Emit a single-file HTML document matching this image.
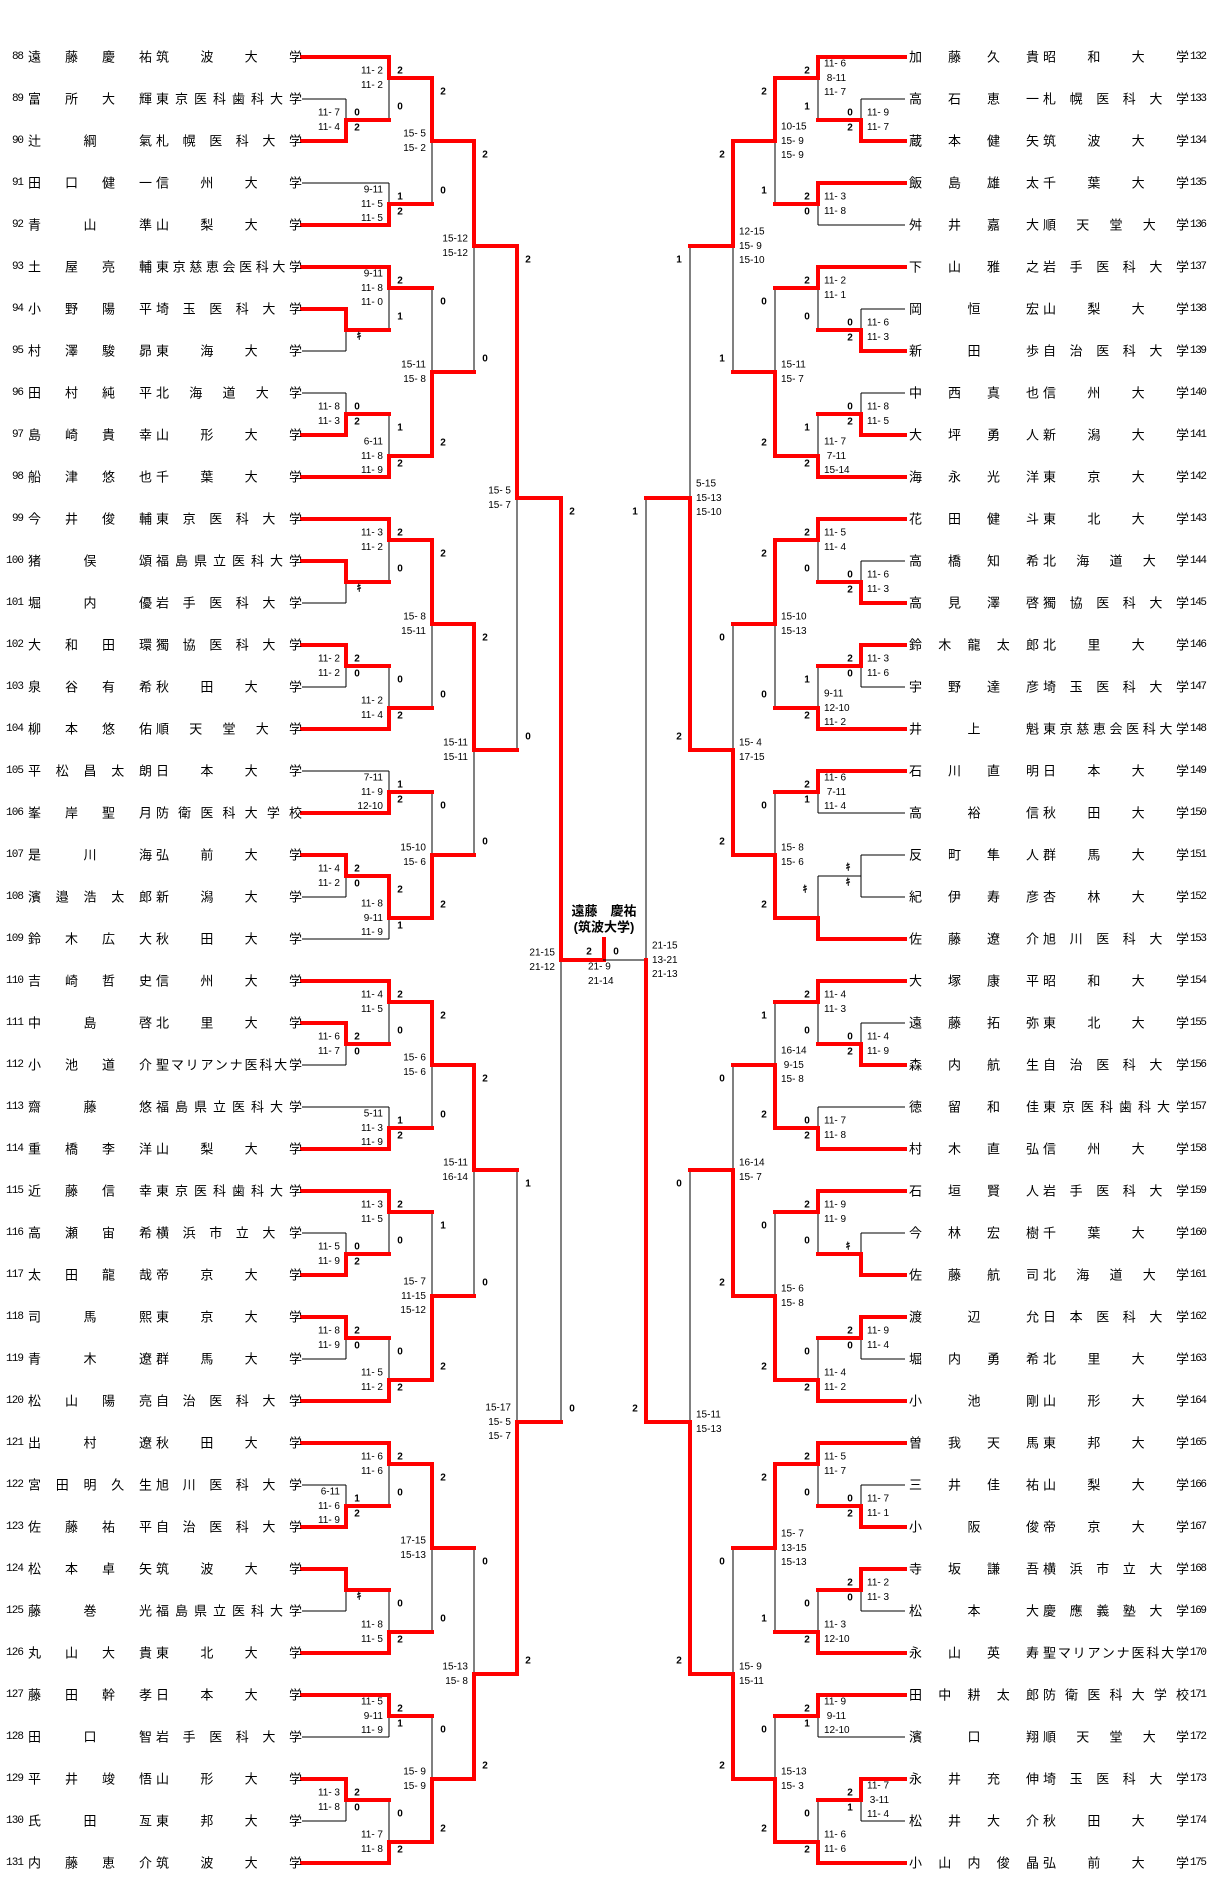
<!DOCTYPE html>
<html><head><meta charset="utf-8">
<style>
html,body{margin:0;padding:0;background:#fff;}
svg{display:block;}
text{font-family:"Liberation Sans","Noto Sans CJK JP",sans-serif;dominant-baseline:central;fill:#000;}
.t{font-size:13px;}
.nl{font-family:"Liberation Mono",monospace;font-size:11px;text-anchor:end;}
.nr{font-family:"Liberation Mono",monospace;font-size:11px;}
.s{font-size:10px;font-weight:bold;text-anchor:middle;font-family:"Liberation Sans","Noto Sans CJK JP",sans-serif;}
.gl{font-family:"Liberation Mono",monospace;font-size:10px;text-anchor:end;white-space:pre;}
.gr{font-family:"Liberation Mono",monospace;font-size:10px;white-space:pre;}
.ch{font-size:13px;font-weight:bold;text-anchor:middle;}
path{fill:none;vector-effect:non-scaling-stroke;}
.k{stroke:#000;stroke-width:1;shape-rendering:crispEdges;}
.r{stroke:#ff0000;stroke-width:4;stroke-linecap:square;}
</style></head><body>
<svg width="1207" height="1885" viewBox="0 0 1207 1885" xmlns="http://www.w3.org/2000/svg">
<defs>
<g id="sk">
<path class="k" d="M302 2H346M302 4H346M302 12H346M302 14H346M302 16H346M302 18H346M302 24H346M302 26H346M302 28H346M302 30H346M302 38H346M302 40H346M302 46H346M302 48H346M302 56H346M302 58H346M302 60H346M302 62H346M302 68H346M302 70H346M302 72H346M302 74H346M302 82H346M302 84H346
M302 0H389M302 6H389M302 8H389M302 10H389M302 20H389M302 22H389M302 32H389M302 34H389M302 36H389M302 42H389M302 44H389M302 50H389M302 52H389M302 54H389M302 64H389M302 66H389M302 76H389M302 78H389M302 80H389M302 86H389
M346 2V4M346 3H389M346 12V14M346 13H389M346 16V18M346 17H389M346 24V26M346 25H389M346 28V30M346 29H389M346 38V40M346 39H389M346 46V48M346 47H389M346 56V58M346 57H389M346 60V62M346 61H389M346 68V70M346 69H389M346 72V74M346 73H389M346 82V84M346 83H389
M389 0V3M389 1H432M389 6V8M389 7H432M389 10V13M389 11H432M389 17V20M389 19H432M389 22V25M389 23H432M389 29V32M389 31H432M389 34V36M389 35H432M389 39V42M389 41H432M389 44V47M389 45H432M389 50V52M389 51H432M389 54V57M389 55H432M389 61V64M389 63H432M389 66V69M389 67H432M389 73V76M389 75H432M389 78V80M389 79H432M389 83V86M389 85H432
M432 1V7M432 4H474M432 11V19M432 15H474M432 23V31M432 27H474M432 35V41M432 38H474M432 45V51M432 48H474M432 55V63M432 59H474M432 67V75M432 71H474M432 79V85M432 82H474
M474 4V15M474 9H517M474 27V38M474 33H517M474 48V59M474 53H517M474 71V82M474 77H517
M517 9V33M517 21H561M517 53V77M517 65H561
M561 21V65M561 43H604"/>
</g>
</defs>
<g transform="translate(0 57) scale(1 21)">
<use href="#sk"/>
<path class="r" d="M302 0H389M302 4H346M302 8H389M302 10H389M302 12H346M302 18H346M302 20H389M302 22H389M302 24H346M302 28H346M302 32H389M302 36H389M302 38H346M302 44H389M302 46H346M302 52H389M302 54H389M302 58H346M302 60H346M302 64H389M302 66H389M302 70H346M302 72H346M302 76H389M302 78H389M302 82H346M302 86H389
M346 4V3H389M346 12V13H389M346 18V17H389M346 24V25H389M346 28V29H389M346 38V39H389M346 46V47H389M346 58V57H389M346 60V61H389M346 70V69H389M346 72V73H389M346 82V83H389
M389 0V1H432M389 8V7H432M389 10V11H432M389 20V19H432M389 22V23H432M389 32V31H432M389 36V35H432M389 39V41H432M389 44V45H432M389 52V51H432M389 54V55H432M389 64V63H432M389 66V67H432M389 76V75H432M389 78V79H432M389 86V85H432
M432 1V4H474M432 19V15H474M432 23V27H474M432 41V38H474M432 45V48H474M432 63V59H474M432 67V71H474M432 85V82H474
M474 4V9H517M474 27V33H517M474 48V53H517M474 82V77H517
M517 9V21H561M517 77V65H561M561 21V43H604V42"/>
</g>
<g transform="translate(1207 57) scale(-1 21)">
<use href="#sk"/>
<path class="r" d="M302 0H389M302 4H346M302 6H389M302 10H389M302 14H346M302 18H346M302 20H389M302 22H389M302 26H346M302 28H346M302 32H389M302 34H389M302 42H389M302 44H389M302 48H346M302 52H389M302 54H389M302 58H346M302 60H346M302 64H389M302 66H389M302 70H346M302 72H346M302 76H389M302 78H389M302 82H346M302 86H389
M346 4V3H389M346 14V13H389M346 18V17H389M346 26V25H389M346 28V29H389M346 48V47H389M346 58V57H389M346 60V61H389M346 70V69H389M346 72V73H389M346 82V83H389
M389 0V1H432M389 6V7H432M389 10V11H432M389 20V19H432M389 22V23H432M389 32V31H432M389 34V35H432M389 42V41H432M389 44V45H432M389 52V51H432M389 54V55H432M389 64V63H432M389 66V67H432M389 76V75H432M389 78V79H432M389 86V85H432
M432 1V4H474M432 19V15H474M432 23V27H474M432 41V38H474M432 51V48H474M432 63V59H474M432 67V71H474M432 85V82H474
M474 4V9H517M474 38V33H517M474 59V53H517M474 82V77H517
M517 33V21H561M517 77V65H561M561 65V43"/>
</g>

<!-- Left names -->
<g class="t">
<text class="nl" x="24" y="57" textLength="12">88</text><text x="28" y="57" textLength="124">遠藤慶祐</text><text x="156" y="57" textLength="146">筑波大学</text>
<text class="nl" x="24" y="99" textLength="12">89</text><text x="28" y="99" textLength="124">富所大輝</text><text x="156" y="99" textLength="146">東京医科歯科大学</text>
<text class="nl" x="24" y="141" textLength="12">90</text><text x="28" y="141" textLength="124">辻綱氣</text><text x="156" y="141" textLength="146">札幌医科大学</text>
<text class="nl" x="24" y="183" textLength="12">91</text><text x="28" y="183" textLength="124">田口健一</text><text x="156" y="183" textLength="146">信州大学</text>
<text class="nl" x="24" y="225" textLength="12">92</text><text x="28" y="225" textLength="124">青山準</text><text x="156" y="225" textLength="146">山梨大学</text>
<text class="nl" x="24" y="267" textLength="12">93</text><text x="28" y="267" textLength="124">土屋亮輔</text><text x="156" y="267" textLength="146">東京慈恵会医科大学</text>
<text class="nl" x="24" y="309" textLength="12">94</text><text x="28" y="309" textLength="124">小野陽平</text><text x="156" y="309" textLength="146">埼玉医科大学</text>
<text class="nl" x="24" y="351" textLength="12">95</text><text x="28" y="351" textLength="124">村澤駿昴</text><text x="156" y="351" textLength="146">東海大学</text>
<text class="nl" x="24" y="393" textLength="12">96</text><text x="28" y="393" textLength="124">田村純平</text><text x="156" y="393" textLength="146">北海道大学</text>
<text class="nl" x="24" y="435" textLength="12">97</text><text x="28" y="435" textLength="124">島崎貴幸</text><text x="156" y="435" textLength="146">山形大学</text>
<text class="nl" x="24" y="477" textLength="12">98</text><text x="28" y="477" textLength="124">船津悠也</text><text x="156" y="477" textLength="146">千葉大学</text>
<text class="nl" x="24" y="519" textLength="12">99</text><text x="28" y="519" textLength="124">今井俊輔</text><text x="156" y="519" textLength="146">東京医科大学</text>
<text class="nl" x="24" y="561" textLength="18">100</text><text x="28" y="561" textLength="124">猪俣頌</text><text x="156" y="561" textLength="146">福島県立医科大学</text>
<text class="nl" x="24" y="603" textLength="18">101</text><text x="28" y="603" textLength="124">堀内優</text><text x="156" y="603" textLength="146">岩手医科大学</text>
<text class="nl" x="24" y="645" textLength="18">102</text><text x="28" y="645" textLength="124">大和田環</text><text x="156" y="645" textLength="146">獨協医科大学</text>
<text class="nl" x="24" y="687" textLength="18">103</text><text x="28" y="687" textLength="124">泉谷有希</text><text x="156" y="687" textLength="146">秋田大学</text>
<text class="nl" x="24" y="729" textLength="18">104</text><text x="28" y="729" textLength="124">柳本悠佑</text><text x="156" y="729" textLength="146">順天堂大学</text>
<text class="nl" x="24" y="771" textLength="18">105</text><text x="28" y="771" textLength="124">平松昌太朗</text><text x="156" y="771" textLength="146">日本大学</text>
<text class="nl" x="24" y="813" textLength="18">106</text><text x="28" y="813" textLength="124">峯岸聖月</text><text x="156" y="813" textLength="146">防衛医科大学校</text>
<text class="nl" x="24" y="855" textLength="18">107</text><text x="28" y="855" textLength="124">是川海</text><text x="156" y="855" textLength="146">弘前大学</text>
<text class="nl" x="24" y="897" textLength="18">108</text><text x="28" y="897" textLength="124">濱邉浩太郎</text><text x="156" y="897" textLength="146">新潟大学</text>
<text class="nl" x="24" y="939" textLength="18">109</text><text x="28" y="939" textLength="124">鈴木広大</text><text x="156" y="939" textLength="146">秋田大学</text>
<text class="nl" x="24" y="981" textLength="18">110</text><text x="28" y="981" textLength="124">吉崎哲史</text><text x="156" y="981" textLength="146">信州大学</text>
<text class="nl" x="24" y="1023" textLength="18">111</text><text x="28" y="1023" textLength="124">中島啓</text><text x="156" y="1023" textLength="146">北里大学</text>
<text class="nl" x="24" y="1065" textLength="18">112</text><text x="28" y="1065" textLength="124">小池道介</text><text x="156" y="1065" textLength="146">聖マリアンナ医科大学</text>
<text class="nl" x="24" y="1107" textLength="18">113</text><text x="28" y="1107" textLength="124">齋藤悠</text><text x="156" y="1107" textLength="146">福島県立医科大学</text>
<text class="nl" x="24" y="1149" textLength="18">114</text><text x="28" y="1149" textLength="124">重橋李洋</text><text x="156" y="1149" textLength="146">山梨大学</text>
<text class="nl" x="24" y="1191" textLength="18">115</text><text x="28" y="1191" textLength="124">近藤信幸</text><text x="156" y="1191" textLength="146">東京医科歯科大学</text>
<text class="nl" x="24" y="1233" textLength="18">116</text><text x="28" y="1233" textLength="124">高瀬宙希</text><text x="156" y="1233" textLength="146">横浜市立大学</text>
<text class="nl" x="24" y="1275" textLength="18">117</text><text x="28" y="1275" textLength="124">太田龍哉</text><text x="156" y="1275" textLength="146">帝京大学</text>
<text class="nl" x="24" y="1317" textLength="18">118</text><text x="28" y="1317" textLength="124">司馬熙</text><text x="156" y="1317" textLength="146">東京大学</text>
<text class="nl" x="24" y="1359" textLength="18">119</text><text x="28" y="1359" textLength="124">青木遼</text><text x="156" y="1359" textLength="146">群馬大学</text>
<text class="nl" x="24" y="1401" textLength="18">120</text><text x="28" y="1401" textLength="124">松山陽亮</text><text x="156" y="1401" textLength="146">自治医科大学</text>
<text class="nl" x="24" y="1443" textLength="18">121</text><text x="28" y="1443" textLength="124">出村遼</text><text x="156" y="1443" textLength="146">秋田大学</text>
<text class="nl" x="24" y="1485" textLength="18">122</text><text x="28" y="1485" textLength="124">宮田明久生</text><text x="156" y="1485" textLength="146">旭川医科大学</text>
<text class="nl" x="24" y="1527" textLength="18">123</text><text x="28" y="1527" textLength="124">佐藤祐平</text><text x="156" y="1527" textLength="146">自治医科大学</text>
<text class="nl" x="24" y="1569" textLength="18">124</text><text x="28" y="1569" textLength="124">松本卓矢</text><text x="156" y="1569" textLength="146">筑波大学</text>
<text class="nl" x="24" y="1611" textLength="18">125</text><text x="28" y="1611" textLength="124">藤巻光</text><text x="156" y="1611" textLength="146">福島県立医科大学</text>
<text class="nl" x="24" y="1653" textLength="18">126</text><text x="28" y="1653" textLength="124">丸山大貴</text><text x="156" y="1653" textLength="146">東北大学</text>
<text class="nl" x="24" y="1695" textLength="18">127</text><text x="28" y="1695" textLength="124">藤田幹孝</text><text x="156" y="1695" textLength="146">日本大学</text>
<text class="nl" x="24" y="1737" textLength="18">128</text><text x="28" y="1737" textLength="124">田口智</text><text x="156" y="1737" textLength="146">岩手医科大学</text>
<text class="nl" x="24" y="1779" textLength="18">129</text><text x="28" y="1779" textLength="124">平井竣悟</text><text x="156" y="1779" textLength="146">山形大学</text>
<text class="nl" x="24" y="1821" textLength="18">130</text><text x="28" y="1821" textLength="124">氏田亙</text><text x="156" y="1821" textLength="146">東邦大学</text>
<text class="nl" x="24" y="1863" textLength="18">131</text><text x="28" y="1863" textLength="124">内藤恵介</text><text x="156" y="1863" textLength="146">筑波大学</text>
</g>

<!-- Right names -->
<g class="t">
<text x="909" y="57" textLength="130">加藤久貴</text><text x="1043" y="57" textLength="146">昭和大学</text><text class="nr" x="1190" y="57" textLength="17">132</text>
<text x="909" y="99" textLength="130">高石恵一</text><text x="1043" y="99" textLength="146">札幌医科大学</text><text class="nr" x="1190" y="99" textLength="17">133</text>
<text x="909" y="141" textLength="130">蔵本健矢</text><text x="1043" y="141" textLength="146">筑波大学</text><text class="nr" x="1190" y="141" textLength="17">134</text>
<text x="909" y="183" textLength="130">飯島雄太</text><text x="1043" y="183" textLength="146">千葉大学</text><text class="nr" x="1190" y="183" textLength="17">135</text>
<text x="909" y="225" textLength="130">舛井嘉大</text><text x="1043" y="225" textLength="146">順天堂大学</text><text class="nr" x="1190" y="225" textLength="17">136</text>
<text x="909" y="267" textLength="130">下山雅之</text><text x="1043" y="267" textLength="146">岩手医科大学</text><text class="nr" x="1190" y="267" textLength="17">137</text>
<text x="909" y="309" textLength="130">岡恒宏</text><text x="1043" y="309" textLength="146">山梨大学</text><text class="nr" x="1190" y="309" textLength="17">138</text>
<text x="909" y="351" textLength="130">新田歩</text><text x="1043" y="351" textLength="146">自治医科大学</text><text class="nr" x="1190" y="351" textLength="17">139</text>
<text x="909" y="393" textLength="130">中西真也</text><text x="1043" y="393" textLength="146">信州大学</text><text class="nr" x="1190" y="393" textLength="17">140</text>
<text x="909" y="435" textLength="130">大坪勇人</text><text x="1043" y="435" textLength="146">新潟大学</text><text class="nr" x="1190" y="435" textLength="17">141</text>
<text x="909" y="477" textLength="130">海永光洋</text><text x="1043" y="477" textLength="146">東京大学</text><text class="nr" x="1190" y="477" textLength="17">142</text>
<text x="909" y="519" textLength="130">花田健斗</text><text x="1043" y="519" textLength="146">東北大学</text><text class="nr" x="1190" y="519" textLength="17">143</text>
<text x="909" y="561" textLength="130">高橋知希</text><text x="1043" y="561" textLength="146">北海道大学</text><text class="nr" x="1190" y="561" textLength="17">144</text>
<text x="909" y="603" textLength="130">高見澤啓</text><text x="1043" y="603" textLength="146">獨協医科大学</text><text class="nr" x="1190" y="603" textLength="17">145</text>
<text x="909" y="645" textLength="130">鈴木龍太郎</text><text x="1043" y="645" textLength="146">北里大学</text><text class="nr" x="1190" y="645" textLength="17">146</text>
<text x="909" y="687" textLength="130">宇野達彦</text><text x="1043" y="687" textLength="146">埼玉医科大学</text><text class="nr" x="1190" y="687" textLength="17">147</text>
<text x="909" y="729" textLength="130">井上魁</text><text x="1043" y="729" textLength="146">東京慈恵会医科大学</text><text class="nr" x="1190" y="729" textLength="17">148</text>
<text x="909" y="771" textLength="130">石川直明</text><text x="1043" y="771" textLength="146">日本大学</text><text class="nr" x="1190" y="771" textLength="17">149</text>
<text x="909" y="813" textLength="130">高裕信</text><text x="1043" y="813" textLength="146">秋田大学</text><text class="nr" x="1190" y="813" textLength="17">150</text>
<text x="909" y="855" textLength="130">反町隼人</text><text x="1043" y="855" textLength="146">群馬大学</text><text class="nr" x="1190" y="855" textLength="17">151</text>
<text x="909" y="897" textLength="130">紀伊寿彦</text><text x="1043" y="897" textLength="146">杏林大学</text><text class="nr" x="1190" y="897" textLength="17">152</text>
<text x="909" y="939" textLength="130">佐藤遼介</text><text x="1043" y="939" textLength="146">旭川医科大学</text><text class="nr" x="1190" y="939" textLength="17">153</text>
<text x="909" y="981" textLength="130">大塚康平</text><text x="1043" y="981" textLength="146">昭和大学</text><text class="nr" x="1190" y="981" textLength="17">154</text>
<text x="909" y="1023" textLength="130">遠藤拓弥</text><text x="1043" y="1023" textLength="146">東北大学</text><text class="nr" x="1190" y="1023" textLength="17">155</text>
<text x="909" y="1065" textLength="130">森内航生</text><text x="1043" y="1065" textLength="146">自治医科大学</text><text class="nr" x="1190" y="1065" textLength="17">156</text>
<text x="909" y="1107" textLength="130">徳留和佳</text><text x="1043" y="1107" textLength="146">東京医科歯科大学</text><text class="nr" x="1190" y="1107" textLength="17">157</text>
<text x="909" y="1149" textLength="130">村木直弘</text><text x="1043" y="1149" textLength="146">信州大学</text><text class="nr" x="1190" y="1149" textLength="17">158</text>
<text x="909" y="1191" textLength="130">石垣賢人</text><text x="1043" y="1191" textLength="146">岩手医科大学</text><text class="nr" x="1190" y="1191" textLength="17">159</text>
<text x="909" y="1233" textLength="130">今林宏樹</text><text x="1043" y="1233" textLength="146">千葉大学</text><text class="nr" x="1190" y="1233" textLength="17">160</text>
<text x="909" y="1275" textLength="130">佐藤航司</text><text x="1043" y="1275" textLength="146">北海道大学</text><text class="nr" x="1190" y="1275" textLength="17">161</text>
<text x="909" y="1317" textLength="130">渡辺允</text><text x="1043" y="1317" textLength="146">日本医科大学</text><text class="nr" x="1190" y="1317" textLength="17">162</text>
<text x="909" y="1359" textLength="130">堀内勇希</text><text x="1043" y="1359" textLength="146">北里大学</text><text class="nr" x="1190" y="1359" textLength="17">163</text>
<text x="909" y="1401" textLength="130">小池剛</text><text x="1043" y="1401" textLength="146">山形大学</text><text class="nr" x="1190" y="1401" textLength="17">164</text>
<text x="909" y="1443" textLength="130">曽我天馬</text><text x="1043" y="1443" textLength="146">東邦大学</text><text class="nr" x="1190" y="1443" textLength="17">165</text>
<text x="909" y="1485" textLength="130">三井佳祐</text><text x="1043" y="1485" textLength="146">山梨大学</text><text class="nr" x="1190" y="1485" textLength="17">166</text>
<text x="909" y="1527" textLength="130">小阪俊</text><text x="1043" y="1527" textLength="146">帝京大学</text><text class="nr" x="1190" y="1527" textLength="17">167</text>
<text x="909" y="1569" textLength="130">寺坂謙吾</text><text x="1043" y="1569" textLength="146">横浜市立大学</text><text class="nr" x="1190" y="1569" textLength="17">168</text>
<text x="909" y="1611" textLength="130">松本大</text><text x="1043" y="1611" textLength="146">慶應義塾大学</text><text class="nr" x="1190" y="1611" textLength="17">169</text>
<text x="909" y="1653" textLength="130">永山英寿</text><text x="1043" y="1653" textLength="146">聖マリアンナ医科大学</text><text class="nr" x="1190" y="1653" textLength="17">170</text>
<text x="909" y="1695" textLength="130">田中耕太郎</text><text x="1043" y="1695" textLength="146">防衛医科大学校</text><text class="nr" x="1190" y="1695" textLength="17">171</text>
<text x="909" y="1737" textLength="130">濱口翔</text><text x="1043" y="1737" textLength="146">順天堂大学</text><text class="nr" x="1190" y="1737" textLength="17">172</text>
<text x="909" y="1779" textLength="130">永井充伸</text><text x="1043" y="1779" textLength="146">埼玉医科大学</text><text class="nr" x="1190" y="1779" textLength="17">173</text>
<text x="909" y="1821" textLength="130">松井大介</text><text x="1043" y="1821" textLength="146">秋田大学</text><text class="nr" x="1190" y="1821" textLength="17">174</text>
<text x="909" y="1863" textLength="130">小山内俊晶</text><text x="1043" y="1863" textLength="146">弘前大学</text><text class="nr" x="1190" y="1863" textLength="17">175</text>
</g>

<!-- Left match scores -->
<g class="s">
<text x="357" y="113">0</text><text x="357" y="128">2</text>
<text x="359" y="337">ｷ</text>
<text x="357" y="407">0</text><text x="357" y="422">2</text>
<text x="359" y="589">ｷ</text>
<text x="357" y="659">2</text><text x="357" y="674">0</text>
<text x="357" y="869">2</text><text x="357" y="884">0</text>
<text x="357" y="1037">2</text><text x="357" y="1052">0</text>
<text x="357" y="1247">0</text><text x="357" y="1262">2</text>
<text x="357" y="1331">2</text><text x="357" y="1346">0</text>
<text x="357" y="1499">1</text><text x="357" y="1514">2</text>
<text x="359" y="1597">ｷ</text>
<text x="357" y="1793">2</text><text x="357" y="1808">0</text>

<text x="400" y="71">2</text><text x="400" y="107">0</text>
<text x="400" y="197">1</text><text x="400" y="212">2</text>
<text x="400" y="281">2</text><text x="400" y="317">1</text>
<text x="400" y="428">1</text><text x="400" y="464">2</text>
<text x="400" y="533">2</text><text x="400" y="569">0</text>
<text x="400" y="680">0</text><text x="400" y="716">2</text>
<text x="400" y="785">1</text><text x="400" y="800">2</text>
<text x="400" y="890">2</text><text x="400" y="926">1</text>
<text x="400" y="995">2</text><text x="400" y="1031">0</text>
<text x="400" y="1121">1</text><text x="400" y="1136">2</text>
<text x="400" y="1205">2</text><text x="400" y="1241">0</text>
<text x="400" y="1352">0</text><text x="400" y="1388">2</text>
<text x="400" y="1457">2</text><text x="400" y="1493">0</text>
<text x="400" y="1604">0</text><text x="400" y="1640">2</text>
<text x="400" y="1709">2</text><text x="400" y="1724">1</text>
<text x="400" y="1814">0</text><text x="400" y="1850">2</text>

<text x="443" y="92">2</text><text x="443" y="191">0</text>
<text x="443" y="302">0</text><text x="443" y="443">2</text>
<text x="443" y="554">2</text><text x="443" y="695">0</text>
<text x="443" y="806">0</text><text x="443" y="905">2</text>
<text x="443" y="1016">2</text><text x="443" y="1115">0</text>
<text x="443" y="1226">1</text><text x="443" y="1367">2</text>
<text x="443" y="1478">2</text><text x="443" y="1619">0</text>
<text x="443" y="1730">0</text><text x="443" y="1829">2</text>

<text x="485" y="155">2</text><text x="485" y="359">0</text>
<text x="485" y="638">2</text><text x="485" y="842">0</text>
<text x="485" y="1079">2</text><text x="485" y="1283">0</text>
<text x="485" y="1562">0</text><text x="485" y="1766">2</text>

<text x="528" y="260">2</text><text x="528" y="737">0</text>
<text x="528" y="1184">1</text><text x="528" y="1661">2</text>

<text x="572" y="512">2</text><text x="572" y="1409">0</text>

<text x="589" y="952">2</text><text x="616" y="952">0</text>
</g>

<!-- Right match scores -->
<g class="s">
<text x="850" y="113">0</text><text x="850" y="128">2</text>
<text x="850" y="323">0</text><text x="850" y="338">2</text>
<text x="850" y="407">0</text><text x="850" y="422">2</text>
<text x="850" y="575">0</text><text x="850" y="590">2</text>
<text x="850" y="659">2</text><text x="850" y="674">0</text>
<text x="848" y="868">ｷ</text><text x="848" y="883">ｷ</text>
<text x="850" y="1037">0</text><text x="850" y="1052">2</text>
<text x="848" y="1247">ｷ</text>
<text x="850" y="1331">2</text><text x="850" y="1346">0</text>
<text x="850" y="1499">0</text><text x="850" y="1514">2</text>
<text x="850" y="1583">2</text><text x="850" y="1598">0</text>
<text x="850" y="1793">2</text><text x="850" y="1808">1</text>

<text x="807" y="71">2</text><text x="807" y="107">1</text>
<text x="807" y="197">2</text><text x="807" y="212">0</text>
<text x="807" y="281">2</text><text x="807" y="317">0</text>
<text x="807" y="428">1</text><text x="807" y="464">2</text>
<text x="807" y="533">2</text><text x="807" y="569">0</text>
<text x="807" y="680">1</text><text x="807" y="716">2</text>
<text x="807" y="785">2</text><text x="807" y="800">1</text>
<text x="805" y="890">ｷ</text>
<text x="807" y="995">2</text><text x="807" y="1031">0</text>
<text x="807" y="1121">0</text><text x="807" y="1136">2</text>
<text x="807" y="1205">2</text><text x="807" y="1241">0</text>
<text x="807" y="1352">0</text><text x="807" y="1388">2</text>
<text x="807" y="1457">2</text><text x="807" y="1493">0</text>
<text x="807" y="1604">0</text><text x="807" y="1640">2</text>
<text x="807" y="1709">2</text><text x="807" y="1724">1</text>
<text x="807" y="1814">0</text><text x="807" y="1850">2</text>

<text x="764" y="92">2</text><text x="764" y="191">1</text>
<text x="764" y="302">0</text><text x="764" y="443">2</text>
<text x="764" y="554">2</text><text x="764" y="695">0</text>
<text x="764" y="806">0</text><text x="764" y="905">2</text>
<text x="764" y="1016">1</text><text x="764" y="1115">2</text>
<text x="764" y="1226">0</text><text x="764" y="1367">2</text>
<text x="764" y="1478">2</text><text x="764" y="1619">1</text>
<text x="764" y="1730">0</text><text x="764" y="1829">2</text>

<text x="722" y="155">2</text><text x="722" y="359">1</text>
<text x="722" y="638">0</text><text x="722" y="842">2</text>
<text x="722" y="1079">0</text><text x="722" y="1283">2</text>
<text x="722" y="1562">0</text><text x="722" y="1766">2</text>

<text x="679" y="260">1</text><text x="679" y="737">2</text>
<text x="679" y="1184">0</text><text x="679" y="1661">2</text>

<text x="635" y="512">1</text><text x="635" y="1409">2</text>
</g>

<!-- Left game scores -->
<g class="gl">
<text x="340" y="113">11- 7<tspan x="340" dy="14">11- 4</tspan></text>
<text x="340" y="407">11- 8<tspan x="340" dy="14">11- 3</tspan></text>
<text x="340" y="659">11- 2<tspan x="340" dy="14">11- 2</tspan></text>
<text x="340" y="869">11- 4<tspan x="340" dy="14">11- 2</tspan></text>
<text x="340" y="1037">11- 6<tspan x="340" dy="14">11- 7</tspan></text>
<text x="340" y="1247">11- 5<tspan x="340" dy="14">11- 9</tspan></text>
<text x="340" y="1331">11- 8<tspan x="340" dy="14">11- 9</tspan></text>
<text x="340" y="1492">6-11<tspan x="340" dy="14">11- 6</tspan><tspan x="340" dy="14">11- 9</tspan></text>
<text x="340" y="1793">11- 3<tspan x="340" dy="14">11- 8</tspan></text>

<text x="383" y="71">11- 2<tspan x="383" dy="14">11- 2</tspan></text>
<text x="383" y="190">9-11<tspan x="383" dy="14">11- 5</tspan><tspan x="383" dy="14">11- 5</tspan></text>
<text x="383" y="274">9-11<tspan x="383" dy="14">11- 8</tspan><tspan x="383" dy="14">11- 0</tspan></text>
<text x="383" y="442">6-11<tspan x="383" dy="14">11- 8</tspan><tspan x="383" dy="14">11- 9</tspan></text>
<text x="383" y="533">11- 3<tspan x="383" dy="14">11- 2</tspan></text>
<text x="383" y="701">11- 2<tspan x="383" dy="14">11- 4</tspan></text>
<text x="383" y="778">7-11<tspan x="383" dy="14">11- 9</tspan><tspan x="383" dy="14">12-10</tspan></text>
<text x="383" y="904">11- 8<tspan x="383" dy="14">9-11</tspan><tspan x="383" dy="14">11- 9</tspan></text>
<text x="383" y="995">11- 4<tspan x="383" dy="14">11- 5</tspan></text>
<text x="383" y="1114">5-11<tspan x="383" dy="14">11- 3</tspan><tspan x="383" dy="14">11- 9</tspan></text>
<text x="383" y="1205">11- 3<tspan x="383" dy="14">11- 5</tspan></text>
<text x="383" y="1373">11- 5<tspan x="383" dy="14">11- 2</tspan></text>
<text x="383" y="1457">11- 6<tspan x="383" dy="14">11- 6</tspan></text>
<text x="383" y="1625">11- 8<tspan x="383" dy="14">11- 5</tspan></text>
<text x="383" y="1702">11- 5<tspan x="383" dy="14">9-11</tspan><tspan x="383" dy="14">11- 9</tspan></text>
<text x="383" y="1835">11- 7<tspan x="383" dy="14">11- 8</tspan></text>

<text x="426" y="134">15- 5<tspan x="426" dy="14">15- 2</tspan></text>
<text x="426" y="365">15-11<tspan x="426" dy="14">15- 8</tspan></text>
<text x="426" y="617">15- 8<tspan x="426" dy="14">15-11</tspan></text>
<text x="426" y="848">15-10<tspan x="426" dy="14">15- 6</tspan></text>
<text x="426" y="1058">15- 6<tspan x="426" dy="14">15- 6</tspan></text>
<text x="426" y="1282">15- 7<tspan x="426" dy="14">11-15</tspan><tspan x="426" dy="14">15-12</tspan></text>
<text x="426" y="1541">17-15<tspan x="426" dy="14">15-13</tspan></text>
<text x="426" y="1772">15- 9<tspan x="426" dy="14">15- 9</tspan></text>

<text x="468" y="239">15-12<tspan x="468" dy="14">15-12</tspan></text>
<text x="468" y="743">15-11<tspan x="468" dy="14">15-11</tspan></text>
<text x="468" y="1163">15-11<tspan x="468" dy="14">16-14</tspan></text>
<text x="468" y="1667">15-13<tspan x="468" dy="14">15- 8</tspan></text>

<text x="511" y="491">15- 5<tspan x="511" dy="14">15- 7</tspan></text>
<text x="511" y="1408">15-17<tspan x="511" dy="14">15- 5</tspan><tspan x="511" dy="14">15- 7</tspan></text>

<text x="555" y="953">21-15<tspan x="555" dy="14">21-12</tspan></text>
</g>
<g class="gr">
<text x="588" y="967">21- 9<tspan x="588" dy="14">21-14</tspan></text>
</g>

<!-- Right game scores -->
<g class="gr">
<text x="867" y="113">11- 9<tspan x="867" dy="14">11- 7</tspan></text>
<text x="867" y="323">11- 6<tspan x="867" dy="14">11- 3</tspan></text>
<text x="867" y="407">11- 8<tspan x="867" dy="14">11- 5</tspan></text>
<text x="867" y="575">11- 6<tspan x="867" dy="14">11- 3</tspan></text>
<text x="867" y="659">11- 3<tspan x="867" dy="14">11- 6</tspan></text>
<text x="867" y="1037">11- 4<tspan x="867" dy="14">11- 9</tspan></text>
<text x="867" y="1331">11- 9<tspan x="867" dy="14">11- 4</tspan></text>
<text x="867" y="1499">11- 7<tspan x="867" dy="14">11- 1</tspan></text>
<text x="867" y="1583">11- 2<tspan x="867" dy="14">11- 3</tspan></text>
<text x="867" y="1786">11- 7<tspan x="867" dy="14"> 3-11</tspan><tspan x="867" dy="14">11- 4</tspan></text>

<text x="824" y="64">11- 6<tspan x="824" dy="14"> 8-11</tspan><tspan x="824" dy="14">11- 7</tspan></text>
<text x="824" y="197">11- 3<tspan x="824" dy="14">11- 8</tspan></text>
<text x="824" y="281">11- 2<tspan x="824" dy="14">11- 1</tspan></text>
<text x="824" y="442">11- 7<tspan x="824" dy="14"> 7-11</tspan><tspan x="824" dy="14">15-14</tspan></text>
<text x="824" y="533">11- 5<tspan x="824" dy="14">11- 4</tspan></text>
<text x="824" y="694"> 9-11<tspan x="824" dy="14">12-10</tspan><tspan x="824" dy="14">11- 2</tspan></text>
<text x="824" y="778">11- 6<tspan x="824" dy="14"> 7-11</tspan><tspan x="824" dy="14">11- 4</tspan></text>
<text x="824" y="995">11- 4<tspan x="824" dy="14">11- 3</tspan></text>
<text x="824" y="1121">11- 7<tspan x="824" dy="14">11- 8</tspan></text>
<text x="824" y="1205">11- 9<tspan x="824" dy="14">11- 9</tspan></text>
<text x="824" y="1373">11- 4<tspan x="824" dy="14">11- 2</tspan></text>
<text x="824" y="1457">11- 5<tspan x="824" dy="14">11- 7</tspan></text>
<text x="824" y="1625">11- 3<tspan x="824" dy="14">12-10</tspan></text>
<text x="824" y="1702">11- 9<tspan x="824" dy="14"> 9-11</tspan><tspan x="824" dy="14">12-10</tspan></text>
<text x="824" y="1835">11- 6<tspan x="824" dy="14">11- 6</tspan></text>

<text x="781" y="127">10-15<tspan x="781" dy="14">15- 9</tspan><tspan x="781" dy="14">15- 9</tspan></text>
<text x="781" y="365">15-11<tspan x="781" dy="14">15- 7</tspan></text>
<text x="781" y="617">15-10<tspan x="781" dy="14">15-13</tspan></text>
<text x="781" y="848">15- 8<tspan x="781" dy="14">15- 6</tspan></text>
<text x="781" y="1051">16-14<tspan x="781" dy="14"> 9-15</tspan><tspan x="781" dy="14">15- 8</tspan></text>
<text x="781" y="1289">15- 6<tspan x="781" dy="14">15- 8</tspan></text>
<text x="781" y="1534">15- 7<tspan x="781" dy="14">13-15</tspan><tspan x="781" dy="14">15-13</tspan></text>
<text x="781" y="1772">15-13<tspan x="781" dy="14">15- 3</tspan></text>

<text x="739" y="232">12-15<tspan x="739" dy="14">15- 9</tspan><tspan x="739" dy="14">15-10</tspan></text>
<text x="739" y="743">15- 4<tspan x="739" dy="14">17-15</tspan></text>
<text x="739" y="1163">16-14<tspan x="739" dy="14">15- 7</tspan></text>
<text x="739" y="1667">15- 9<tspan x="739" dy="14">15-11</tspan></text>

<text x="696" y="484"> 5-15<tspan x="696" dy="14">15-13</tspan><tspan x="696" dy="14">15-10</tspan></text>
<text x="696" y="1415">15-11<tspan x="696" dy="14">15-13</tspan></text>

<text x="652" y="946">21-15<tspan x="652" dy="14">13-21</tspan><tspan x="652" dy="14">21-13</tspan></text>
</g>

<!-- Champion -->
<text class="ch" x="604" y="911">遠藤　慶祐</text>
<text class="ch" x="604" y="927">(筑波大学)</text>
</svg>
</body></html>
